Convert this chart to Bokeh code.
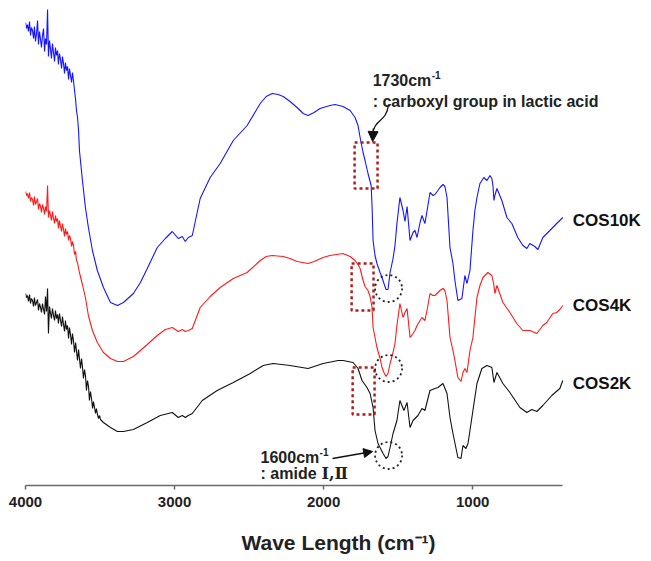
from bokeh.plotting import figure
from bokeh.models import Range1d, FixedTicker, Label, Arrow, NormalHead
from bokeh.embed import file_html
from bokeh.resources import INLINE

# Wavenumber grid of the noisy high-frequency end (cm-1)
noisy_wn = [4000,3993,3987,3980,3973,3966,3960,3953,3946,3940,3933,3926,3919,3913,3906,3899,3893,3886,3879,3872,
            3866,3859,3852,3846,3839,3832,3826,3819,3812,3805,3799,3792,3785,3779,3772,3765,3758,3752,3745,3738,
            3732,3725,3718,3711,3705,3698,3691,3685,3678,3671,3664,3658,3651,3644]
noisy_wn_ext = [3638,3631,3624,3618,3611,3604,3597,3591,3584,3577,3571,3564,3557,3550,3544,3537,3530,3524,3517,3510,
                3503,3497]

# Absorbance-like offset values (plotted on an inverted axis)
blue_noisy = [22,28,24,31,21,35,27,30,38,26,41,33,20,44,31,39,47,35,28,51,
              38,44,9,56,40,49,58,43,52,61,47,55,50,64,53,59,68,56,63,73,
              62,70,66,79,68,75,82,72,80,90,99,110,117,130]
blue_wn_rest = [3638,3618,3598,3578,3551,3518,3477,3430,3383,3343,3276,3229,
                3183,3116,3062,3015,2975,2948,2928,2908,2881,2828,2761,2694,2606,2513,2425,2385,2345,2305,2271,2225,
                2178,2137,2104,2064,2024,1957,1923,1870,1822,1789,1769,1755,1735,1722,1702,1681,1675,1668,1655,1642,
                1621,1608,1595,1581,1568,1554,1534,1521,1508,1488,1467,1454,1440,1420,1400,1387,1373,1353,1340,1320,
                1300,1286,1266,1253,1233,1219,1199,1186,1172,1152,1132,1119,1099,1072,1052,1038,1018,998,985,971,
                951,925,904,884,871,864,857,851,837,804,770,737,697,663,636,616,583,562,529,482,436,395]
blue_rest = [150,180,207,227,250,270,287,302,305,302,293,282,
             268,247,238,231,238,236,241,237,235,198,177,163,140,125,103,96,93,94,96,101,
             107,113,115,112,108,105,104,106,110,117,125,137,152,160,173,185,205,240,255,263,
             272,277,283,289,289,272,258,245,223,197,210,221,206,240,232,230,237,222,215,223,
             205,192,195,194,190,187,184,186,197,247,263,280,300,298,275,283,270,230,210,197,
             183,177,180,175,178,185,200,195,188,200,217,223,237,245,248,243,246,249,237,230,223,217]

red_noisy = [191,195,193,198,192,201,197,199,205,196,204,201,198,209,203,206,212,204,208,214,
             206,211,185,217,210,215,220,211,218,223,215,221,218,228,220,226,231,223,229,236,
             228,234,231,240,235,238,246,241,245,254,251,260,262,268]
red_wn_rest = [3638,3618,3598,3578,3551,3518,3477,3430,3383,3343,3276,3229,
               3183,3116,3062,3015,2975,2948,2928,2908,2881,2828,2761,2694,2606,2513,2425,2385,2345,2271,2225,2178,
               2104,2064,2003,1957,1870,1822,1789,1769,1755,1735,1722,1702,1688,1675,1668,1655,1642,1621,1608,1595,
               1581,1568,1554,1534,1521,1508,1488,1467,1454,1440,1420,1400,1387,1373,1353,1340,1320,1300,1286,1266,
               1253,1233,1219,1199,1186,1172,1152,1132,1119,1099,1078,1065,1052,1038,1018,998,985,971,951,931,
               898,871,857,851,837,797,750,704,663,616,569,529,503,462,436,415,395]
red_rest = [272,284,297,315,330,342,352,358,361,361,356,350,
            344,335,329,327,331,329,331,330,328,307,296,287,278,272,260,256,255,256,258,261,
            263,261,257,255,253,256,260,264,268,280,286,290,296,307,327,337,347,358,367,372,
            376,373,363,352,343,325,303,317,312,308,337,333,330,325,320,317,320,305,293,295,
            295,292,290,288,290,300,337,350,360,377,381,372,368,372,350,337,317,297,285,277,
            272,275,285,293,285,302,312,323,330,330,333,325,322,313,312,309,305]

black_noisy = [293,297,295,301,294,303,298,300,306,297,305,302,299,310,303,307,312,303,309,314,
               296,311,288,333,306,313,318,308,315,320,310,318,314,323,313,320,326,316,324,331,
               320,329,325,338,327,334,344,333,340,352,342,350,360,349,
               358,368,358,366,378,369,376,390,380,386,400,391,398,408,401,407,413,408,414,418,
               415,419]
black_wn_rest = [3477,3430,3383,3343,3276,3183,3096,3015,2975,2948,2928,2908,2881,2814,2714,2606,2492,2405,2338,2225,
                 2104,2003,1903,1870,1802,1769,1742,1709,1688,1668,1655,1635,1601,1581,1568,1554,1534,1508,1488,1461,
                 1440,1420,1400,1367,1340,1320,1300,1286,1253,1233,1199,1172,1152,1132,1099,1078,1065,1045,1031,998,
                 971,938,904,871,857,837,797,750,683,636,603,569,529,469,415,395]
black_rest = [422,427,431,431,429,422,415,412,417,415,417,415,413,400,390,382,373,365,363,365,
              368,363,360,360,362,368,380,387,393,407,430,443,453,458,456,447,433,420,400,410,
              402,427,420,415,408,410,398,390,388,387,383,393,417,433,457,458,445,448,443,410,
              383,368,365,367,382,372,383,392,407,412,409,411,405,395,388,380]

series_names = ["COS10K", "COS4K", "COS2K"]
series_label_y = [220, 305, 383]
tick_values = [4000, 3000, 2000, 1000]

# annotation positions (cm-1, offset units)
box_left = [1792, 1812, 1805]
box_right = [1638, 1665, 1658]
box_top = [142, 263, 367]
box_bottom = [188, 310, 414]
circle_wn = [1564, 1564, 1564]
circle_y = [288, 368, 455]

blue_wn = noisy_wn + blue_wn_rest
blue_a = blue_noisy + blue_rest
red_wn = noisy_wn + red_wn_rest
red_a = red_noisy + red_rest
black_wn = noisy_wn + noisy_wn_ext + black_wn_rest
black_a = black_noisy + black_rest

p = figure(width=651, height=561, output_backend="svg", toolbar_location=None,
           x_range=Range1d(4000, -200), y_range=Range1d(485, 0),
           y_axis_location=None, min_border_left=25, min_border_right=0,
           min_border_top=0, min_border_bottom=76)
p.outline_line_color = None
p.xgrid.visible = False
p.ygrid.visible = False
p.background_fill_color = "white"
p.border_fill_color = "white"

ax = p.xaxis[0]
ax.ticker = FixedTicker(ticks=tick_values)
ax.bounds = (400, 4000)
ax.minor_tick_line_color = None
ax.major_tick_in = 0
ax.major_tick_out = 4
ax.axis_line_color = "#6a6a6a"
ax.axis_line_width = 1.5
ax.major_tick_line_color = "#6a6a6a"
ax.major_tick_line_width = 1.5
ax.major_label_text_font = "Liberation Sans"
ax.major_label_text_font_style = "bold"
ax.major_label_text_font_size = "15px"
ax.major_label_text_color = "#222222"
ax.major_label_standoff = 7
ax.axis_label = "Wave Length (cm\u207b\u00b9)"
ax.axis_label_text_font = "Liberation Sans"
ax.axis_label_text_font_style = "bold"
ax.axis_label_text_font_size = "21px"
ax.axis_label_text_color = "#222222"
ax.axis_label_standoff = 21

p.line(blue_wn, blue_a, line_color="#1515ff", line_width=1.1)
p.line(red_wn, red_a, line_color="#ff1a1a", line_width=1.1)
p.line(black_wn, black_a, line_color="#111111", line_width=1.1)

p.quad(left=box_left, right=box_right, top=box_top, bottom=box_bottom,
       fill_alpha=0, line_color="#b01c1c", line_width=2.5, line_dash="3 3")
p.scatter(circle_wn, circle_y, marker="circle", size=27, fill_alpha=0,
          line_color="#222222", line_width=1.8, line_dash="2 3")

for name, yy in zip(series_names, series_label_y):
    p.add_layout(Label(x=328, y=yy, text=name, text_font="Liberation Sans",
                       text_font_style="bold", text_font_size="17px",
                       text_color="#111111", text_baseline="middle", text_align="left"))

def add_text(x, y, txt, size="16px", xo=0, font="Liberation Sans"):
    p.add_layout(Label(x=x, y=y, x_offset=xo, text=txt, text_font=font,
                       text_font_style="bold", text_font_size=size, text_color="#222222",
                       text_baseline="alphabetic", text_align="left"))

add_text(1671, 80, "1730cm")
add_text(1671, 74, "-1", size="10px", xo=59)
add_text(1671, 101, ": carboxyl group in lactic acid")
add_text(2423, 457, "1600cm")
add_text(2423, 451, "-1", size="10px", xo=59)
add_text(2423, 473, ": amide")
add_text(2423, 473, "\u2160,\u2161", xo=61, font="DejaVu Serif")

# curved arrow to 1730 band
p.bezier(x0=[1564], y0=[104], x1=[1665], y1=[130], cx0=[1580], cy0=[122], cx1=[1650], cy1=[118],
         line_color="#111111", line_width=1.3)
p.add_layout(Arrow(end=NormalHead(size=10, fill_color="#111111", line_color="#111111"),
                   x_start=1667, y_start=128, x_end=1671, y_end=141,
                   line_color="#111111", line_width=1.3))
# straight arrow to 1600 band
p.add_layout(Arrow(end=NormalHead(size=9, fill_color="#111111", line_color="#111111"),
                   x_start=1940, y_start=458, x_end=1671, y_end=451,
                   line_color="#111111", line_width=1.3))

open("out.html", "w").write(file_html(p, INLINE))
